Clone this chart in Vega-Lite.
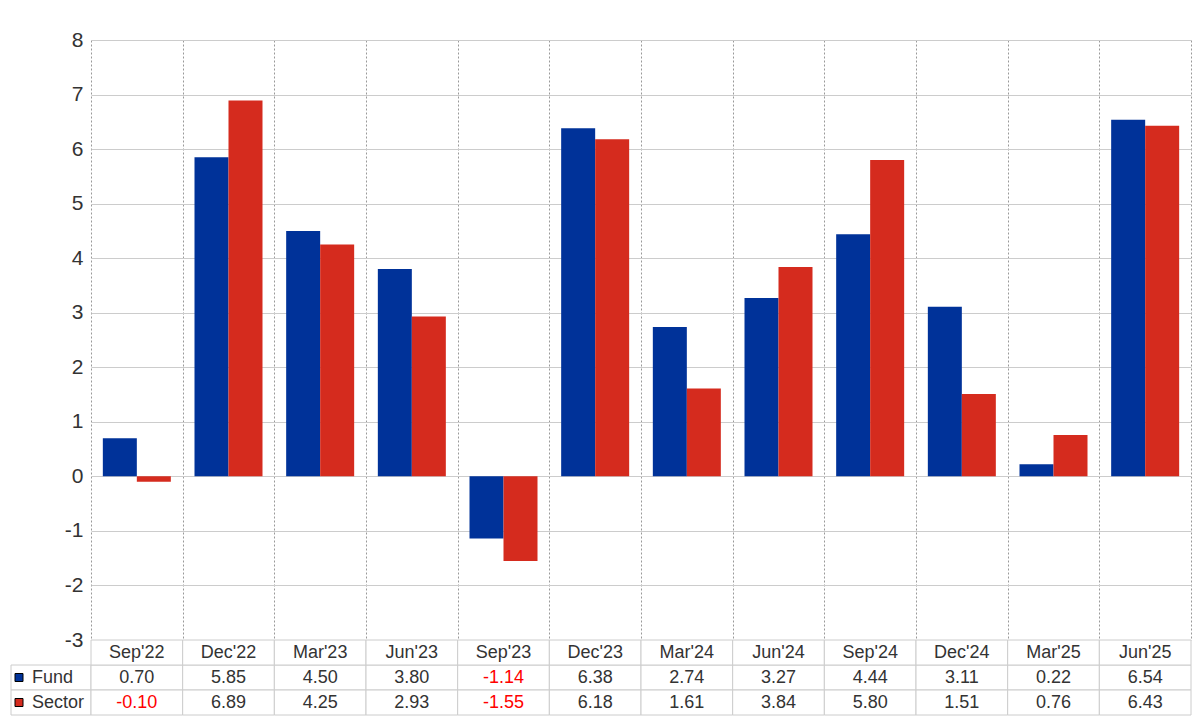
{
  "$schema": "https://vega.github.io/schema/vega-lite/v6.json",
  "padding": {"left": 10, "top": 29, "right": 10, "bottom": 5},
  "config": {
    "view": {"stroke": null},
    "font": "Liberation Sans",
    "concat": {"spacing": 0},
    "locale": {"number": {"decimal": ".", "thousands": ",", "grouping": [3], "currency": ["$", ""], "minus": "-"}}
  },
  "datasets": {
    "main": [
      {"period": "Sep'22", "series": "Fund", "value": 0.70},
      {"period": "Dec'22", "series": "Fund", "value": 5.85},
      {"period": "Mar'23", "series": "Fund", "value": 4.50},
      {"period": "Jun'23", "series": "Fund", "value": 3.80},
      {"period": "Sep'23", "series": "Fund", "value": -1.14},
      {"period": "Dec'23", "series": "Fund", "value": 6.38},
      {"period": "Mar'24", "series": "Fund", "value": 2.74},
      {"period": "Jun'24", "series": "Fund", "value": 3.27},
      {"period": "Sep'24", "series": "Fund", "value": 4.44},
      {"period": "Dec'24", "series": "Fund", "value": 3.11},
      {"period": "Mar'25", "series": "Fund", "value": 0.22},
      {"period": "Jun'25", "series": "Fund", "value": 6.54},
      {"period": "Sep'22", "series": "Sector", "value": -0.10},
      {"period": "Dec'22", "series": "Sector", "value": 6.89},
      {"period": "Mar'23", "series": "Sector", "value": 4.25},
      {"period": "Jun'23", "series": "Sector", "value": 2.93},
      {"period": "Sep'23", "series": "Sector", "value": -1.55},
      {"period": "Dec'23", "series": "Sector", "value": 6.18},
      {"period": "Mar'24", "series": "Sector", "value": 1.61},
      {"period": "Jun'24", "series": "Sector", "value": 3.84},
      {"period": "Sep'24", "series": "Sector", "value": 5.80},
      {"period": "Dec'24", "series": "Sector", "value": 1.51},
      {"period": "Mar'25", "series": "Sector", "value": 0.76},
      {"period": "Jun'25", "series": "Sector", "value": 6.43}
    ]
  },
  "columns": 2,
  "bounds": "flush",
  "spacing": 0,
  "resolve": {"scale": {"x": "independent", "y": "independent", "color": "independent"}},
  "concat": [
    {
      "width": 80,
      "height": 600,
      "data": {"values": []},
      "mark": "text",
      "encoding": {}
    },
    {
      "width": 1100,
      "height": 600,
      "data": {"name": "main"},
      "mark": {"type": "bar"},
      "encoding": {
        "x": {
          "field": "period",
          "type": "nominal",
          "scale": {
            "domain": ["Sep'22", "Dec'22", "Mar'23", "Jun'23", "Sep'23", "Dec'23", "Mar'24", "Jun'24", "Sep'24", "Dec'24", "Mar'25", "Jun'25"],
            "paddingInner": 0,
            "paddingOuter": 0
          },
          "axis": {
            "title": null,
            "labels": false,
            "ticks": false,
            "domain": false,
            "grid": true,
            "tickBand": "extent",
            "gridColor": "#999999",
            "gridDash": [2, 2],
            "gridWidth": 1
          }
        },
        "xOffset": {
          "field": "series",
          "type": "nominal",
          "sort": ["Fund", "Sector"],
          "scale": {"paddingInner": 0, "paddingOuter": 0.348}
        },
        "y": {
          "field": "value",
          "type": "quantitative",
          "scale": {"domain": [-3, 8], "nice": false},
          "axis": {
            "title": null,
            "values": [-3, -2, -1, 0, 1, 2, 3, 4, 5, 6, 7, 8],
            "ticks": false,
            "domain": false,
            "grid": true,
            "gridColor": "#cccccc",
            "labelFontSize": 21,
            "labelColor": "#333333",
            "labelPadding": 8
          }
        },
        "color": {
          "field": "series",
          "type": "nominal",
          "scale": {"domain": ["Fund", "Sector"], "range": ["#003299", "#d52b1e"]},
          "legend": null
        }
      }
    },
    {
      "width": 80,
      "height": 75,
      "data": {"name": "main"},
      "transform": [{"filter": "datum.period === \"Sep'22\""}],
      "encoding": {
        "y": {
          "field": "series",
          "type": "nominal",
          "scale": {"domain": ["Period", "Fund", "Sector"], "paddingInner": 0, "paddingOuter": 0},
          "axis": null
        }
      },
      "layer": [
        {"mark": {"type": "rect", "fill": "white", "stroke": "#cccccc", "strokeWidth": 1}},
        {
          "mark": {"type": "point", "shape": "square", "filled": true, "size": 64, "stroke": "#000000", "strokeWidth": 1, "opacity": 1, "xOffset": -32},
          "encoding": {
            "color": {
              "field": "series",
              "type": "nominal",
              "scale": {"domain": ["Fund", "Sector"], "range": ["#003299", "#d52b1e"]},
              "legend": null
            }
          }
        },
        {
          "mark": {"type": "text", "align": "left", "dx": -19, "fontSize": 18, "color": "#333333"},
          "encoding": {"text": {"field": "series"}}
        }
      ]
    },
    {
      "width": 1100,
      "height": 75,
      "data": {"name": "main"},
      "encoding": {
        "x": {
          "field": "period",
          "type": "nominal",
          "scale": {
            "domain": ["Sep'22", "Dec'22", "Mar'23", "Jun'23", "Sep'23", "Dec'23", "Mar'24", "Jun'24", "Sep'24", "Dec'24", "Mar'25", "Jun'25"],
            "paddingInner": 0,
            "paddingOuter": 0
          },
          "axis": null
        }
      },
      "layer": [
        {
          "mark": {"type": "rect", "fill": "white", "stroke": "#cccccc", "strokeWidth": 1},
          "encoding": {
            "y": {
              "field": "series",
              "type": "nominal",
              "scale": {"domain": ["Period", "Fund", "Sector"], "paddingInner": 0, "paddingOuter": 0},
              "axis": null
            }
          }
        },
        {
          "transform": [{"filter": "datum.series === 'Fund'"}],
          "mark": {"type": "rect", "fill": "white", "stroke": "#cccccc", "strokeWidth": 1},
          "encoding": {"y": {"datum": "Period", "type": "nominal"}}
        },
        {
          "mark": {"type": "text", "fontSize": 18},
          "encoding": {
            "y": {"field": "series", "type": "nominal"},
            "text": {"field": "value", "type": "quantitative", "format": ".2f"},
            "color": {
              "condition": {"test": "datum.value < 0", "value": "#ff0000"},
              "value": "#333333"
            }
          }
        },
        {
          "transform": [{"filter": "datum.series === 'Fund'"}],
          "mark": {"type": "text", "fontSize": 18, "color": "#333333"},
          "encoding": {
            "y": {"datum": "Period", "type": "nominal"},
            "text": {"field": "period"}
          }
        }
      ]
    }
  ]
}
